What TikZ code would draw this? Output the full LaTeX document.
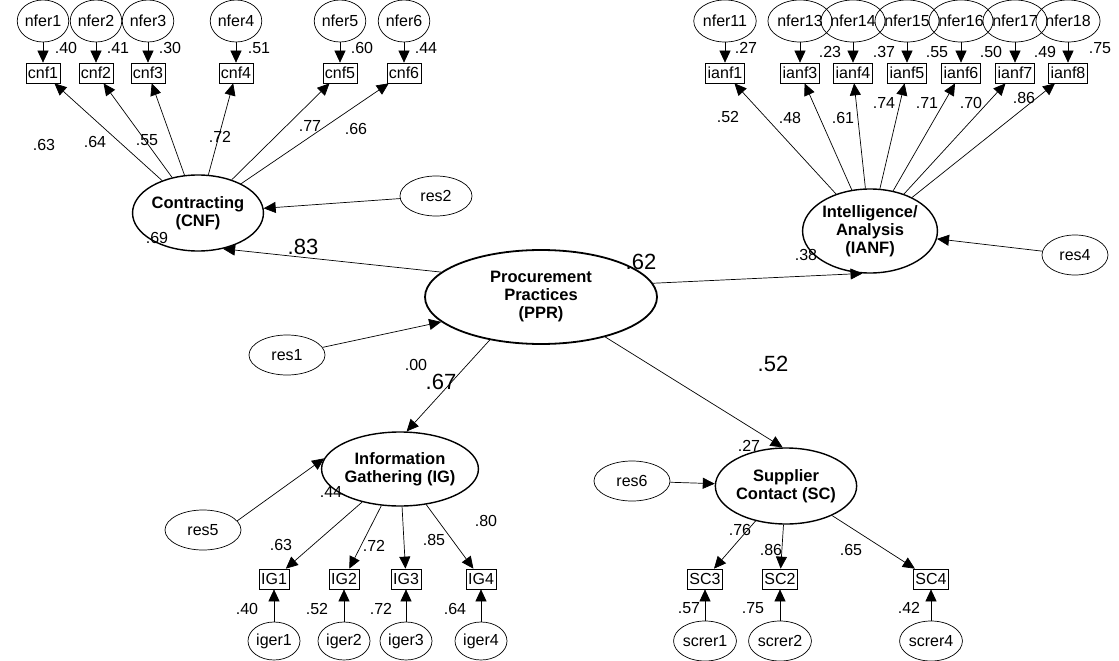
\documentclass[tikz,border=0pt]{standalone}
\usepackage{fontspec}
\setmainfont{Liberation Sans}
\usetikzlibrary{arrows.meta,shapes.geometric}
\tikzset{
 obs/.style={draw, line width=0.7pt, inner xsep=2pt, inner ysep=1pt, font=\fontsize{16}{16}\selectfont, minimum height=20pt},
 err/.style={draw, ellipse, line width=0.7pt, inner sep=0pt, font=\fontsize{16}{16}\selectfont, minimum width=44pt, minimum height=42pt},
 errw/.style={err, minimum width=54pt},
 res/.style={draw, ellipse, line width=0.7pt, inner sep=0pt, font=\fontsize{16}{16}\selectfont, minimum width=72pt, minimum height=40pt},
 lat/.style={draw, ellipse, line width=1.4pt, inner sep=0pt, align=center, font=\fontsize{16.5}{18}\selectfont\bfseries},
 lab/.style={font=\fontsize{16}{16}\selectfont, inner sep=0pt},
 big/.style={font=\fontsize{22}{22}\selectfont, inner sep=0pt},
 arr/.style={line width=0.7pt, -{Triangle[length=12pt,width=11pt]}},
}
\begin{document}
\begin{tikzpicture}[x=1pt,y=-1pt]
\useasboundingbox (0,0) rectangle (1119,661);
% ---------- CNF group
\foreach \i/\x in {1/43,2/96,3/148,4/236,5/340,6/404}{
  \node[err] (nf\i) at (\x,21) {nfer\i};
  \node[obs] (cnf\i) at (\x,73) {cnf\i};
  \draw[arr] (nf\i) -- (cnf\i);
}
\node[lab] (v1) at (66,48) {.40};
\node[lab] (v2) at (118,48) {.41};
\node[lab] (v3) at (170,48) {.30};
\node[lab] (v4) at (259,48) {.51};
\node[lab] (v5) at (362,48) {.60};
\node[lab] (v6) at (426,48) {.44};
\node[lat, minimum width=108pt, minimum height=76pt] (CNF) at (198,213) {Contracting\\(CNF)};
\foreach \i in {1,...,6}{ \draw[arr] (CNF) -- (cnf\i); }
\node[lab] (l1) at (44,145) {.63};
\node[lab] (l2) at (95,142) {.64};
\node[lab] (l3) at (147,140) {.55};
\node[lab] (l4) at (220,137) {.72};
\node[lab] (l5) at (310,126) {.77};
\node[lab] (l6) at (356,129) {.66};
\node[lab] (r2v) at (157,238) {.69};
\node[res] (res2) at (436,196) {res2};
\draw[arr] (res2) -- (CNF);
% ---------- IANF group
\foreach \i/\x/\b in {11/725/1,13/800/3,14/853/4,15/907/5,16/961/6,17/1015/7,18/1068/8}{
  \node[errw] (nf\i) at (\x,21) {nfer\i};
  \node[obs] (ianf\b) at (\x,73) {ianf\b};
  \draw[arr] (nf\i) -- (ianf\b);
}
\node[lab] (w1) at (746,48) {.27};
\node[lab] (w3) at (830,52) {.23};
\node[lab] (w4) at (884,52) {.37};
\node[lab] (w5) at (937,52) {.55};
\node[lab] (w6) at (991,52) {.50};
\node[lab] (w7) at (1045,52) {.49};
\node[lab] (w8) at (1100,48) {.75};
\node[lat, minimum width=110pt, minimum height=84pt] (IANF) at (870,231) {Intelligence/\\Analysis\\(IANF)};
\foreach \b in {1,3,4,5,6,7,8}{ \draw[arr] (IANF) -- (ianf\b); }
\node[lab] (m1) at (728,117) {.52};
\node[lab] (m3) at (790,118) {.48};
\node[lab] (m4) at (843,118) {.61};
\node[lab] (m5) at (884,103) {.74};
\node[lab] (m6) at (927,103) {.71};
\node[lab] (m7) at (971,103) {.70};
\node[lab] (m8) at (1024,98) {.86};
\node[lab] (r4v) at (806,255) {.38};
\node[res, minimum width=66pt] (res4) at (1075,255) {res4};
\draw[arr] (res4) -- (IANF);
% ---------- PPR
\node[lat, line width=1.8pt, minimum width=232pt, minimum height=94pt] (PPR) at (541,297) {Procurement\\Practices\\(PPR)};
\node[res, minimum width=76pt] (res1) at (287,355) {res1};
\draw[arr] (res1) -- (PPR.194);
\node[lab] (r1v) at (416,365) {.00};
\draw[arr] (PPR.166) -- (CNF.-55);
\draw[arr] (PPR.7) -- (IANF.-100);
\node[big] (p1) at (303,247) {.83};
\node[big] (p2) at (641,262) {.62};
\node[big] (p3) at (441,382) {.67};
\node[big] (p4) at (773,364) {.52};
% ---------- IG group
\node[lat, minimum width=132pt, minimum height=74pt] (IG) at (400,469) {Information\\Gathering (IG)};
\draw[arr] (PPR.-140) -- (IG.80);
\node[lab] (r5v) at (331,492) {.44};
\node[res, minimum width=76pt] (res5) at (203,530) {res5};
\draw[arr] (res5.15) -- (IG.172);
\foreach \i/\x in {1/274,2/344,3/406,4/481}{
  \node[obs] (IG\i) at (\x,579) {IG\i};
  \node[err, minimum width=52pt, minimum height=38pt] (ig\i) at (\x,641) {iger\i};
  \draw[arr] (IG) -- (IG\i);
  \draw[arr] (ig\i) -- (IG\i);
}
\node[lab] (g1) at (281,545) {.63};
\node[lab] (g2) at (374,546) {.72};
\node[lab] (g3) at (434,540) {.85};
\node[lab] (g4) at (486,521) {.80};
\node[lab] (e1) at (247,609) {.40};
\node[lab] (e2) at (317,609) {.52};
\node[lab] (e3) at (381,609) {.72};
\node[lab] (e4) at (455,609) {.64};
% ---------- SC group
\node[lat, minimum width=120pt, minimum height=76pt] (SC) at (786,486) {Supplier\\Contact (SC)};
\draw[arr] (PPR) -- (SC.95);
\node[lab] (r6v) at (749,446) {.27};
\node[res, minimum width=76pt] (res6) at (632,481) {res6};
\draw[arr] (res6) -- (SC);
\foreach \i/\x/\e in {3/705/1,2/780/2,4/931/4}{
  \node[obs] (SC\i) at (\x,579) {SC\i};
  \node[err, minimum width=56pt, minimum height=40pt] (sc\e) at (\x,641) {screr\e};
  \draw[arr] (SC) -- (SC\i);
  \draw[arr] (sc\e) -- (SC\i);
}
\node[lab] (s3) at (740,530) {.76};
\node[lab] (s2) at (771,550) {.86};
\node[lab] (s4) at (851,550) {.65};
\node[lab] (f1) at (689,608) {.57};
\node[lab] (f2) at (753,608) {.75};
\node[lab] (f4) at (909,608) {.42};
\end{tikzpicture}
\end{document}
